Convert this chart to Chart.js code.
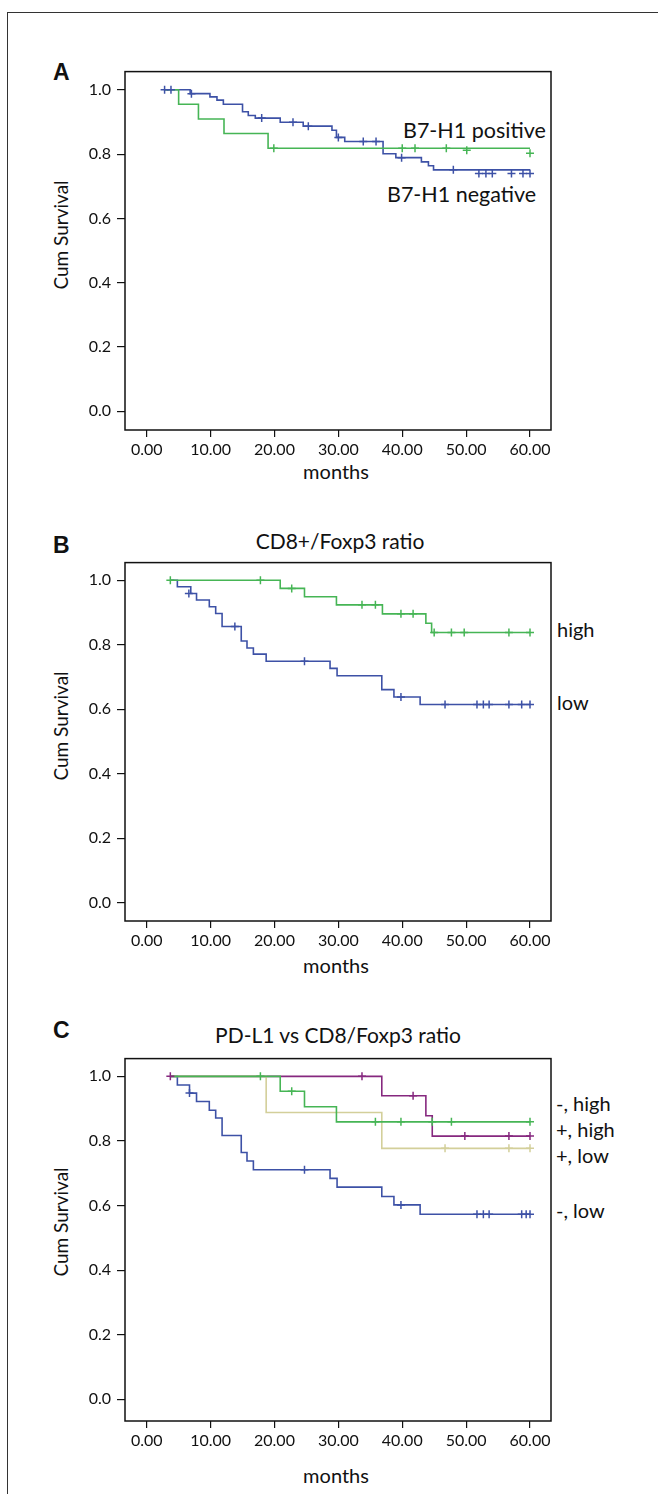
<!DOCTYPE html>
<html><head><meta charset="utf-8">
<script src="https://cdn.jsdelivr.net/npm/chart.js@4/dist/chart.umd.min.js"></script>
<style>
body{margin:0;width:658px;height:1494px;position:relative;background:#fff;font-family:Lato,sans-serif;overflow:hidden}
.frame{position:absolute;left:7px;top:12px;width:700px;height:1500px;border-top:1.5px solid #333;border-left:1.5px solid #333}
.t{position:absolute;white-space:nowrap;color:#111;line-height:1;transform:translate(0,-50%)}
.c{transform:translate(-50%,-50%)}
.rot{transform:translate(-50%,-50%) rotate(-90deg)}
.letter{font-family:"Liberation Sans",Arial,sans-serif;font-weight:bold;font-size:23px}
canvas{position:absolute;left:0}
</style></head><body>
<div class="frame"></div>

<div class="t letter" style="left:53px;top:72px">A</div>
<div class="t letter" style="left:53px;top:545px">B</div>
<div class="t letter" style="left:53px;top:1030px">C</div>

<div class="t c" style="left:340px;top:540px;font-size:21px">CD8+/Foxp3 ratio</div>
<div class="t c" style="left:338px;top:1034px;font-size:21px">PD-L1 vs CD8/Foxp3 ratio</div>

<div class="t rot" style="left:60px;top:235px;font-size:19px">Cum Survival</div>
<div class="t rot" style="left:60px;top:726px;font-size:19px">Cum Survival</div>
<div class="t rot" style="left:60px;top:1222px;font-size:19px">Cum Survival</div>

<div class="t c" style="left:336px;top:471px;font-size:20px">months</div>
<div class="t c" style="left:336px;top:965px;font-size:20px">months</div>
<div class="t c" style="left:336px;top:1475px;font-size:20px">months</div>

<div class="t" style="left:403px;top:131px;font-size:21.5px">B7-H1 positive</div>
<div class="t" style="left:387px;top:195px;font-size:21.5px">B7-H1 negative</div>

<div class="t" style="left:557px;top:629px;font-size:20px">high</div>
<div class="t" style="left:557px;top:702px;font-size:20px">low</div>

<div class="t" style="left:556px;top:1103px;font-size:20px">-, high</div>
<div class="t" style="left:556px;top:1129px;font-size:20px">+, high</div>
<div class="t" style="left:556px;top:1155px;font-size:20px">+, low</div>
<div class="t" style="left:556px;top:1210px;font-size:20px">-, low</div>

<canvas id="cA"></canvas>
<canvas id="cB"></canvas>
<canvas id="cC"></canvas>

<script>
// ---- tick labels ----
const xTicks = [0, 10, 20, 30, 40, 50, 60];
const yTicks = [0, 0.2, 0.4, 0.6, 0.8, 1.0];

// ---- Panel A: B7-H1 ----
const aNegTimes = [2.8, 6.8, 9.9, 11.0, 12.0, 15.0, 15.9, 17.0, 20.9, 24.5, 29.0, 29.7, 31.0, 37.0, 39.0, 43.0, 44.1, 44.9, 60];
const aNegSurv  = [1.0, 0.988, 0.978, 0.968, 0.955, 0.932, 0.920, 0.912, 0.899, 0.887, 0.874, 0.852, 0.839, 0.801, 0.789, 0.776, 0.764, 0.751, 0.751];
const aNegCensTimes = [2.8, 3.8, 7.0, 18.0, 22.9, 25.3, 30.0, 33.9, 35.9, 39.9, 48.0, 52.0, 53.1, 54.1, 57.1, 58.9, 60.0];
const aNegCensSurv  = [1.0, 1.0, 0.988, 0.912, 0.899, 0.887, 0.852, 0.839, 0.839, 0.789, 0.751, 0.740, 0.740, 0.740, 0.740, 0.740, 0.740];
const aPosTimes = [2.8, 5.0, 8.1, 12.1, 19.0, 60];
const aPosSurv  = [1.0, 0.955, 0.909, 0.864, 0.818, 0.818];
const aPosCensTimes = [19.9, 40.0, 42.0, 46.9, 50.1, 60.0];
const aPosCensSurv  = [0.818, 0.818, 0.818, 0.818, 0.812, 0.803];

// ---- Panel B: CD8+/Foxp3 ratio ----
const bHighTimes = [3.7, 20.9, 24.7, 29.7, 36.9, 43.7, 44.6, 60];
const bHighSurv  = [1.0, 0.975, 0.949, 0.924, 0.896, 0.867, 0.838, 0.838];
const bHighCensTimes = [3.7, 17.8, 22.7, 33.7, 35.8, 39.8, 41.7, 45.0, 47.7, 49.7, 56.7, 60.0];
const bHighCensSurv  = [1.0, 1.0, 0.975, 0.924, 0.924, 0.896, 0.896, 0.838, 0.838, 0.838, 0.838, 0.838];
const bLowTimes = [3.7, 4.8, 6.9, 7.8, 9.8, 10.8, 11.8, 14.8, 15.7, 16.7, 18.7, 28.7, 29.8, 36.8, 38.7, 42.8, 60];
const bLowSurv  = [1.0, 0.980, 0.959, 0.939, 0.918, 0.897, 0.857, 0.812, 0.790, 0.771, 0.749, 0.727, 0.704, 0.661, 0.638, 0.615, 0.615];
const bLowCensTimes = [6.6, 13.8, 24.7, 39.8, 46.7, 51.7, 52.7, 53.6, 56.7, 58.7, 60.0];
const bLowCensSurv  = [0.959, 0.857, 0.749, 0.638, 0.615, 0.615, 0.615, 0.615, 0.615, 0.615, 0.615];

// ---- Panel C: PD-L1 vs CD8/Foxp3 ratio ----
const cMinusHighTimes = [3.7, 20.9, 24.7, 29.7, 60];
const cMinusHighSurv  = [1.0, 0.954, 0.906, 0.859, 0.859];
const cMinusHighCensTimes = [17.8, 22.7, 35.8, 39.8, 44.7, 47.7, 60.0];
const cMinusHighCensSurv  = [1.0, 0.954, 0.859, 0.859, 0.859, 0.859, 0.859];
const cPlusLowTimes = [3.7, 18.7, 36.8, 60];
const cPlusLowSurv  = [1.0, 0.888, 0.777, 0.777];
const cPlusLowCensTimes = [46.7, 56.7, 60.0];
const cPlusLowCensSurv  = [0.777, 0.777, 0.777];
const cPlusHighTimes = [3.7, 36.8, 43.7, 44.7, 60];
const cPlusHighSurv  = [1.0, 0.940, 0.878, 0.815, 0.815];
const cPlusHighCensTimes = [3.7, 33.7, 41.7, 49.8, 56.7, 60.0];
const cPlusHighCensSurv  = [1.0, 1.0, 0.940, 0.815, 0.815, 0.815];
const cMinusLowTimes = [3.7, 4.8, 6.7, 7.8, 9.8, 10.8, 11.8, 14.8, 15.7, 16.7, 28.7, 29.8, 36.8, 38.7, 42.8, 60];
const cMinusLowSurv  = [1.0, 0.973, 0.948, 0.922, 0.895, 0.871, 0.817, 0.764, 0.738, 0.711, 0.684, 0.657, 0.628, 0.602, 0.573, 0.573];
const cMinusLowCensTimes = [6.7, 24.7, 39.8, 51.7, 52.7, 53.6, 58.7, 59.4, 60.0];
const cMinusLowCensSurv  = [0.948, 0.711, 0.602, 0.573, 0.573, 0.573, 0.573, 0.573, 0.573];

const BLUE = '#3d51a6', GREEN = '#46b555', PURPLE = '#86287f', TAN = '#d3cf9a';

function xy(ts, ss){ return ts.map((t,i)=>({x:t, y:ss[i]})); }

const boxPlugin = {
  id:'box',
  afterDraw(c){
    const a=c.chartArea, ctx=c.ctx;
    ctx.save(); ctx.strokeStyle='#111'; ctx.lineWidth=1.5;
    ctx.strokeRect(a.left, a.top, a.right-a.left, a.bottom-a.top);
    ctx.restore();
  }
};

// geometry per panel (pixel layout)
const BOX_L = 125, BOX_R = 551, X0PX = 146.7, X60PX = 530;
const pxPerMonth = (X60PX - X0PX)/60;
const XMIN = -(X0PX - BOX_L)/pxPerMonth, XMAX = 60 + (BOX_R - X60PX)/pxPerMonth;

function panel(id, boxTop, boxBottom, y1px, y0px, lines, cens){
  const padTop = 10, axH = 40;
  const el = document.getElementById(id);
  el.width = 658; el.height = (boxBottom-boxTop) + padTop + axH;
  el.style.top = (boxTop - padTop) + 'px';
  const pxPerUnit = y0px - y1px;
  const YMAX = 1 + (y1px - boxTop)/pxPerUnit;
  const YMIN = -(boxBottom - y0px)/pxPerUnit;
  const datasets = [];
  lines.forEach(l=>datasets.push({data:xy(l[0],l[1]), borderColor:l[2], borderWidth:1.6, stepped:true, pointRadius:0, fill:false, order:1}));
  cens.forEach(cn=>datasets.push({data:xy(cn[0],cn[1]), showLine:false, pointStyle:'cross', pointRadius:4, pointBorderWidth:1.5, borderColor:cn[2], backgroundColor:cn[2], order:0}));
  new Chart(el, {
    type:'line',
    data:{datasets},
    options:{
      responsive:false, animation:false, devicePixelRatio:1,
      layout:{padding:{left:0, right:658-BOX_R, top:padTop, bottom:0}},
      plugins:{legend:{display:false}, tooltip:{enabled:false}},
      elements:{line:{tension:0}},
      scales:{
        x:{type:'linear', min:XMIN, max:XMAX,
          afterFit(s){ s.height = axH; },
          afterBuildTicks(s){ s.ticks = xTicks.map(v=>({value:v})); },
          ticks:{callback:v=>Number(v).toFixed(2), font:{family:'Lato', size:16}, color:'#111', padding:3, autoSkip:false, maxRotation:0},
          grid:{drawOnChartArea:false, drawTicks:true, tickLength:7, color:'#111', lineWidth:1.2},
          border:{display:false}},
        y:{type:'linear', min:YMIN, max:YMAX,
          afterFit(s){ s.width = BOX_L; },
          afterBuildTicks(s){ s.ticks = yTicks.map(v=>({value:v})); },
          ticks:{callback:v=>Number(v).toFixed(1), font:{family:'Lato', size:16}, color:'#111', padding:6, autoSkip:false},
          grid:{drawOnChartArea:false, drawTicks:true, tickLength:8, color:'#111', lineWidth:1.2},
          border:{display:false}}
      }
    },
    plugins:[boxPlugin]
  });
}

panel('cA', 66, 430, 84.5, 411,
  [[aPosTimes, aPosSurv, GREEN], [aNegTimes, aNegSurv, BLUE]],
  [[aPosCensTimes, aPosCensSurv, GREEN], [aNegCensTimes, aNegCensSurv, BLUE]]);

panel('cB', 557, 921, 575, 902.5,
  [[bHighTimes, bHighSurv, GREEN], [bLowTimes, bLowSurv, BLUE]],
  [[bHighCensTimes, bHighCensSurv, GREEN], [bLowCensTimes, bLowCensSurv, BLUE]]);

panel('cC', 1053, 1421, 1071, 1399,
  [[cMinusHighTimes, cMinusHighSurv, GREEN], [cPlusLowTimes, cPlusLowSurv, TAN], [cPlusHighTimes, cPlusHighSurv, PURPLE], [cMinusLowTimes, cMinusLowSurv, BLUE]],
  [[cMinusHighCensTimes, cMinusHighCensSurv, GREEN], [cPlusLowCensTimes, cPlusLowCensSurv, TAN], [cPlusHighCensTimes, cPlusHighCensSurv, PURPLE], [cMinusLowCensTimes, cMinusLowCensSurv, BLUE]]);
</script>
</body></html>
